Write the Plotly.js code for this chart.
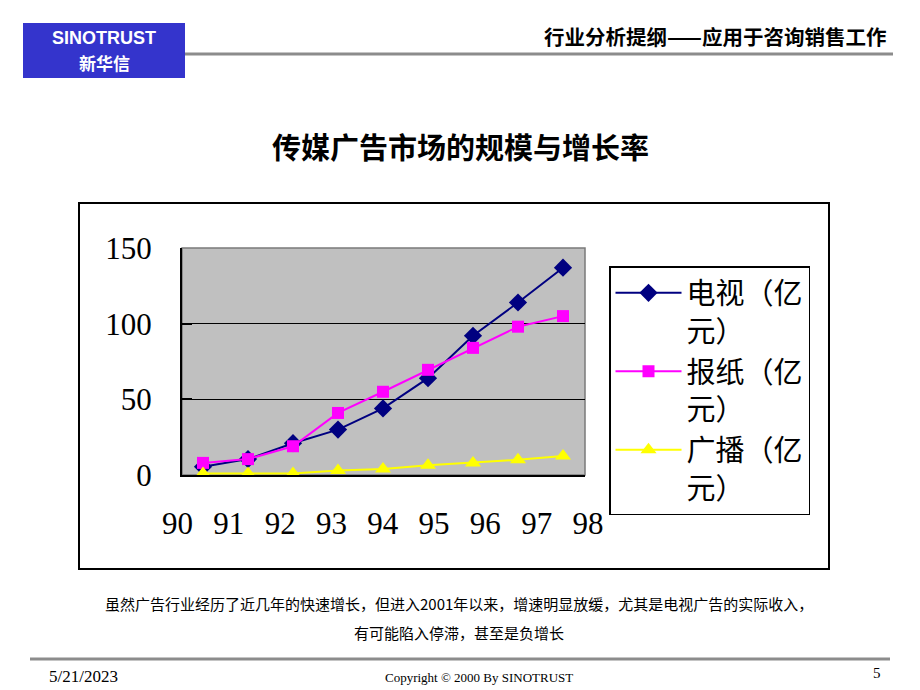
<!DOCTYPE html>
<html><head><meta charset="utf-8">
<script src="https://cdn.plot.ly/plotly-3.0.1.min.js"></script>
<style>html,body{margin:0;padding:0;background:#fff}#chart{width:920px;height:690px}</style>
</head><body><div id="chart"></div>
<script>
// ---- data ----
const yearLabels = ['90','91','92','93','94','95','96','97','98'];
const yearVals = [90,91,92,93,94,95,96,97,98];
const pointIndex = [0,1,2,3,4,5,6,7,8];
const tv = [5.5,10.5,21,30,44,64,92,114,137];
const newspaper = [8,10.5,19,41,55,69.5,84,98,105];
const radio = [1,1,1,3,4,6.5,8,10,12.5];
const seriesNames = ['电视（亿<br>元）','报纸（亿<br>元）','广播（亿<br>元）'];
const yTicks = [0,50,100,150];
const pageTitle = '传媒广告市场的规模与增长率';
const headerText = '行业分析提纲——应用于咨询销售工作';
const caption1 = '虽然广告行业经历了近几年的快速增长，但进入2001年以来，增速明显放缓，尤其是电视广告的实际收入，';
const caption2 = '有可能陷入停滞，甚至是负增长';

// ---- helpers (pixel -> paper) ----
const W = 920, H = 690;
const fx = p => p / W;
const fy = p => 1 - p / H;

const CJK = '"Noto Sans CJK SC", "Noto Sans", sans-serif';
const SERIF = '"Liberation Serif", "DejaVu Serif", serif';

const traces = [
  {x: pointIndex, y: tv, name: seriesNames[0], type: 'scatter', mode: 'lines+markers',
   line: {color: '#000080', width: 2}, marker: {symbol: 'diamond', size: 14, color: '#000080'}},
  {x: pointIndex, y: newspaper, name: seriesNames[1], type: 'scatter', mode: 'lines+markers',
   line: {color: '#ff00ff', width: 2}, marker: {symbol: 'square', size: 12, color: '#ff00ff'}},
  {x: pointIndex, y: radio, name: seriesNames[2], type: 'scatter', mode: 'lines+markers',
   line: {color: '#ffff00', width: 2}, marker: {symbol: 'triangle-up', size: 14, color: '#ffff00'}},
  // category-label axis carrier (no visible marks)
  {x: yearVals, y: yearVals.map(() => null), xaxis: 'x2', yaxis: 'y2', type: 'scatter', mode: 'markers',
   showlegend: false, hoverinfo: 'skip'}
];

const layout = {
  width: W, height: H, autosize: false,
  margin: {l: 0, r: 0, t: 0, b: 0},
  paper_bgcolor: '#ffffff',
  plot_bgcolor: 'rgba(0,0,0,0)',
  showlegend: true,
  xaxis: {
    domain: [fx(182), fx(585)], range: [-0.467, 8.489], anchor: 'y',
    showticklabels: false, ticks: '', showgrid: false, zeroline: false,
    showline: true, linecolor: '#000', linewidth: 2, fixedrange: true
  },
  yaxis: {
    domain: [fy(475), fy(248)], range: [0, 150], anchor: 'x',
    tickvals: yTicks, ticks: 'inside', ticklen: 10, tickwidth: 2, tickcolor: '#000',
    showgrid: true, gridcolor: '#000', gridwidth: 1.5, zeroline: false,
    showline: true, linecolor: '#000', linewidth: 2, ticklabelstandoff: 22,
    tickfont: {family: SERIF, size: 31, color: '#000'}
  },
  xaxis2: {
    domain: [fx(126.2), fx(639.3)], range: [89, 99], anchor: 'y2',
    tickvals: yearVals, ticktext: yearLabels, ticks: '', showgrid: false,
    zeroline: false, showline: false, ticklabelstandoff: 26,
    tickfont: {family: SERIF, size: 31, color: '#000'}
  },
  yaxis2: {
    domain: [fy(476), fy(475)], range: [0, 1], anchor: 'x2', visible: false,
    showgrid: false, zeroline: false
  },
  legend: {
    x: fx(609), y: fy(266), xanchor: 'left', yanchor: 'top',
    bgcolor: '#ffffff', bordercolor: '#000', borderwidth: 1.5,
    font: {family: CJK, size: 29, color: '#000'},
    valign: 'top', itemwidth: 66, tracegroupgap: 0
  },
  shapes: [
    // outer chart frame
    {type: 'rect', xref: 'paper', yref: 'paper', x0: fx(79), x1: fx(829), y0: fy(569), y1: fy(203),
     line: {color: '#000', width: 2}, fillcolor: 'rgba(0,0,0,0)', layer: 'below'},
    // plot area background
    {type: 'rect', xref: 'x domain', yref: 'y domain', x0: 0, x1: 1, y0: 0, y1: 1,
     line: {color: '#7a7a7a', width: 1.5}, fillcolor: '#c0c0c0', layer: 'below'},
    // header logo box
    {type: 'rect', xref: 'paper', yref: 'paper', x0: fx(23), x1: fx(185), y0: fy(78), y1: fy(23),
     line: {width: 0}, fillcolor: '#3434cc'},
    // header rule
    {type: 'line', xref: 'paper', yref: 'paper', x0: fx(185), x1: fx(893), y0: fy(54), y1: fy(54),
     line: {color: '#8c8c8c', width: 3}},
    // footer rule
    {type: 'line', xref: 'paper', yref: 'paper', x0: fx(30), x1: fx(890), y0: fy(659), y1: fy(659),
     line: {color: '#8c8c8c', width: 3}}
  ],
  annotations: [
    {text: '<b>SINOTRUST</b>', xref: 'paper', yref: 'paper', x: fx(104), y: fy(38), showarrow: false,
     xanchor: 'center', yanchor: 'middle', font: {family: '"Liberation Sans", Arial, sans-serif', size: 18, color: '#fff'}},
    {text: '<b>新华信</b>', xref: 'paper', yref: 'paper', x: fx(104), y: fy(62), showarrow: false,
     xanchor: 'center', yanchor: 'middle', font: {family: CJK, size: 17, color: '#fff'}},
    {text: '<b>' + headerText + '</b>', xref: 'paper', yref: 'paper', x: fx(888), y: fy(36), showarrow: false,
     xanchor: 'right', yanchor: 'middle', font: {family: CJK, size: 20.5, color: '#000'}},
    {text: '<b>' + pageTitle + '</b>', xref: 'paper', yref: 'paper', x: fx(460), y: fy(146), showarrow: false,
     xanchor: 'center', yanchor: 'middle', font: {family: CJK, size: 29, color: '#000'}},
    {text: caption1, xref: 'paper', yref: 'paper', x: fx(459), y: fy(603), showarrow: false,
     xanchor: 'center', yanchor: 'middle', font: {family: CJK, size: 15, color: '#000'}},
    {text: caption2, xref: 'paper', yref: 'paper', x: fx(459), y: fy(632), showarrow: false,
     xanchor: 'center', yanchor: 'middle', font: {family: CJK, size: 15, color: '#000'}},
    {text: '5/21/2023', xref: 'paper', yref: 'paper', x: fx(47), y: fy(676), showarrow: false,
     xanchor: 'left', yanchor: 'middle', font: {family: SERIF, size: 17, color: '#000'}},
    {text: 'Copyright © 2000 By SINOTRUST', xref: 'paper', yref: 'paper', x: fx(479), y: fy(677), showarrow: false,
     xanchor: 'center', yanchor: 'middle', font: {family: SERIF, size: 13, color: '#000'}},
    {text: '5', xref: 'paper', yref: 'paper', x: fx(883), y: fy(673), showarrow: false,
     xanchor: 'right', yanchor: 'middle', font: {family: SERIF, size: 15, color: '#000'}}
  ]
};

Plotly.newPlot('chart', traces, layout, {displayModeBar: false, staticPlot: true});
</script>
</body></html>
